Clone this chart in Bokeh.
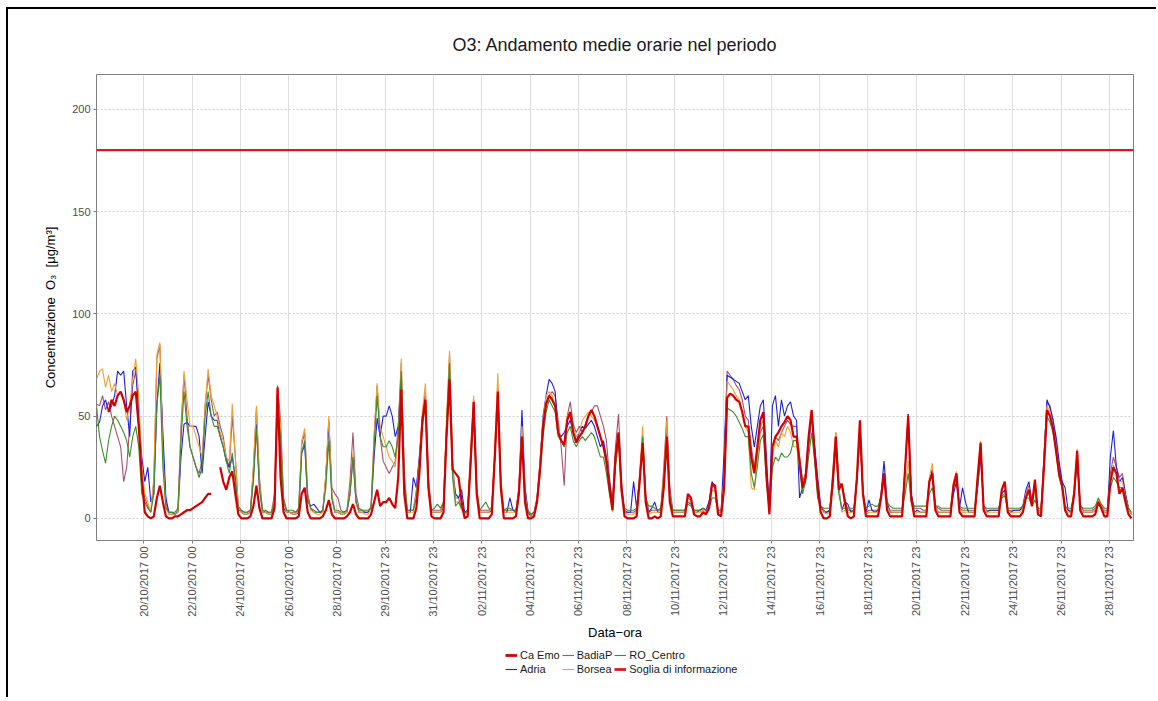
import math
from bokeh.plotting import figure
from bokeh.layouts import column
from bokeh.models import Legend, LegendItem, FixedTicker, Range1d, ColumnDataSource
from bokeh.embed import file_html
from bokeh.resources import INLINE

nan = float("nan")

TITLE = "O3: Andamento medie orarie nel periodo"
X_LABEL = "Data\u2212ora"
Y_LABEL = "Concentrazione\u00a0 O\u2083\u00a0 [\u03bcg/m\u00b3]"

# hours of each day (from 18/10/2017) at which the curves were read
SAMPLE_HOURS = [1, 4, 7, 10, 13, 16, 19, 22]
N_DAYS = 43
TICK_STEP_H = 48
TICK_LABELS = ["20/10/2017 00", "22/10/2017 00", "24/10/2017 00", "26/10/2017 00",
               "28/10/2017 00", "29/10/2017 23", "31/10/2017 23", "02/11/2017 23",
               "04/11/2017 23", "06/11/2017 23", "08/11/2017 23", "10/11/2017 23",
               "12/11/2017 23", "14/11/2017 23", "16/11/2017 23", "18/11/2017 23",
               "20/11/2017 23", "22/11/2017 23", "24/11/2017 23", "26/11/2017 23",
               "28/11/2017 23"]
Y_TICKS = [0, 50, 100, 150, 200]
SOGLIA = 180

CA_EMO = [
    nan, nan, nan, nan, 52, 58, 55, 60,
    62, 58, 52, 55, 60, 62, 45, 20,
    3, 1, 0, 1, 10, 16, 8, 1,
    0, 0, 1, 1, 2, 3, 4, 4,
    5, 6, 7, 8, 10, 12, 12, nan,
    nan, 25, 18, 14, 20, 23, 12, 2,
    0, 0, 0, 1, 6, 16, 5, 0,
    0, 0, 0, 5, 64, 20, 3, 0,
    0, 0, 0, 1, 12, 15, 3, 0,
    0, 0, 0, 1, 4, 9, 2, 0,
    0, 0, 0, 1, 3, 7, 2, 0,
    0, 0, 0, 2, 8, 14, 6, 8,
    8, 10, 7, 5, 20, 63, 12, 0,
    0, 0, 5, 22, 48, 58, 15, 1,
    0, 0, 0, 3, 40, 68, 24, 22,
    20, 8, 0, 1, 28, 57, 12, 0,
    0, 0, 0, 2, 30, 62, 15, 0,
    0, 0, 0, 1, 12, 40, 8, 0,
    0, 1, 8, 24, 45, 56, 60, 58,
    55, 42, 38, 36, 48, 52, 42, 37,
    40, 42, 45, 50, 53, 50, 45, 40,
    35, 28, 15, 4, 30, 42, 14, 1,
    0, 0, 0, 1, 18, 37, 8, 0,
    0, 1, 0, 1, 15, 40, 8, 1,
    1, 1, 1, 1, 12, 10, 2, 1,
    1, 3, 2, 5, 17, 16, 2, 1,
    15, 59, 61, 60, 58, 57, 52, 45,
    45, 30, 22, 35, 48, 52, 22, 2,
    35, 40, 42, 45, 47, 50, 48, 40,
    40, 28, 15, 20, 40, 53, 32, 15,
    3, 0, 0, 1, 18, 40, 14, 17,
    8, 1, 0, 1, 20, 48, 12, 1,
    1, 1, 1, 1, 10, 22, 4, 1,
    1, 1, 1, 1, 25, 50, 10, 1,
    1, 1, 1, 1, 18, 22, 4, 1,
    1, 1, 1, 1, 16, 22, 3, 1,
    1, 1, 1, 1, 20, 37, 4, 1,
    1, 1, 1, 1, 14, 18, 3, 1,
    1, 1, 1, 3, 10, 14, 6, 19,
    2, 1, 25, 53, 50, 44, 33, 22,
    16, 4, 1, 1, 12, 33, 4, 1,
    1, 1, 1, 2, 8, 5, 1, 1,
    18, 25, 22, 12, 15, 8, 2, 0,
]

ADRIA = [
    45, 47, 55, 58, 52, 55, 60, 72,
    70, 72, 55, 40, 72, 74, 50, 30,
    18, 25, 8, 12, 55, 76, 42, 10,
    3, 3, 2, 3, 30, 46, 47, 45,
    45, 45, 40, 22, 40, 57, 50, 48,
    48, 40, 35, 28, 25, 30, 20, 5,
    3, 2, 2, 3, 20, 46, 15, 3,
    3, 2, 2, 8, 60, 35, 5, 3,
    3, 2, 2, 3, 32, 36, 8, 6,
    7, 5, 3, 3, 20, 47, 10, 3,
    3, 2, 2, 3, 12, 30, 8, 3,
    3, 3, 3, 5, 30, 49, 40, 50,
    50, 55, 50, 40, 45, 70, 15, 3,
    3, 20, 15, 30, 48, 58, 15, 3,
    3, 3, 3, 5, 40, 72, 22, 12,
    10, 14, 3, 3, 30, 55, 12, 3,
    3, 3, 3, 4, 30, 60, 15, 3,
    3, 10, 4, 3, 15, 53, 15, 3,
    1, 2, 10, 28, 50, 60, 68, 66,
    62, 42, 40, 42, 45, 48, 42, 38,
    42, 45, 44, 46, 48, 45, 40, 35,
    38, 30, 18, 6, 28, 40, 15, 3,
    3, 3, 18, 5, 20, 40, 10, 3,
    5, 8, 3, 3, 20, 44, 12, 3,
    3, 3, 3, 3, 8, 7, 3, 3,
    4, 5, 4, 8, 18, 15, 3, 3,
    33, 70, 69, 68, 67, 66, 62, 58,
    60, 45, 35, 45, 55, 58, 30, 5,
    55, 60, 45, 58, 50, 55, 57, 50,
    48, 10, 15, 20, 35, 50, 35, 20,
    6, 3, 3, 4, 18, 38, 15, 4,
    8, 7, 3, 4, 18, 40, 12, 3,
    9, 4, 3, 4, 12, 28, 8, 3,
    3, 3, 3, 3, 25, 51, 12, 3,
    4, 3, 3, 3, 18, 24, 6, 3,
    3, 3, 3, 3, 12, 18, 5, 15,
    8, 3, 3, 3, 15, 30, 6, 3,
    4, 4, 4, 4, 12, 14, 4, 3,
    4, 4, 4, 6, 14, 18, 8, 15,
    3, 3, 30, 58, 54, 48, 40, 28,
    18, 15, 4, 3, 12, 28, 6, 3,
    3, 3, 3, 4, 8, 5, 3, 3,
    30, 43, 25, 18, 20, 12, 5, 2,
]

BADIAP = [
    56, 55, 60, 53, 57, 50, 45, 40,
    35, 18, 25, 45, 65, 72, 55, 20,
    10, 6, 3, 18, 78, 85, 35, 8,
    2, 2, 2, 4, 45, 70, 50, 35,
    30, 25, 22, 28, 55, 70, 58, 50,
    52, 45, 40, 30, 25, 50, 30, 6,
    4, 3, 3, 4, 25, 54, 20, 4,
    3, 3, 3, 12, 65, 48, 10, 4,
    3, 3, 3, 5, 36, 42, 12, 5,
    3, 3, 3, 4, 20, 48, 15, 12,
    10, 4, 3, 4, 18, 42, 12, 5,
    4, 3, 3, 6, 40, 65, 40, 28,
    25, 22, 25, 28, 45, 76, 22, 4,
    4, 4, 14, 30, 50, 62, 20, 4,
    4, 4, 4, 7, 46, 80, 28, 10,
    10, 5, 3, 4, 30, 58, 15, 4,
    4, 4, 4, 5, 32, 64, 18, 4,
    4, 4, 4, 4, 15, 43, 15, 4,
    2, 3, 10, 25, 45, 55, 60, 62,
    60, 48, 35, 16, 50, 57, 46, 42,
    45, 42, 46, 50, 52, 55, 55, 50,
    45, 38, 20, 8, 35, 51, 18, 4,
    3, 3, 3, 4, 20, 38, 12, 3,
    4, 4, 4, 4, 25, 50, 15, 4,
    4, 4, 4, 4, 10, 9, 4, 4,
    4, 5, 4, 8, 16, 15, 4, 4,
    25, 72, 70, 68, 65, 63, 58, 50,
    48, 35, 25, 32, 42, 45, 22, 5,
    35, 40, 38, 42, 45, 48, 46, 45,
    45, 30, 18, 22, 40, 53, 35, 12,
    6, 4, 3, 4, 22, 42, 18, 16,
    10, 4, 4, 4, 20, 45, 14, 3,
    4, 4, 4, 4, 10, 22, 6, 4,
    4, 4, 4, 4, 25, 51, 12, 5,
    5, 5, 4, 4, 18, 22, 6, 5,
    4, 4, 4, 4, 16, 22, 5, 4,
    4, 4, 4, 4, 18, 36, 6, 4,
    4, 4, 4, 4, 11, 12, 4, 4,
    4, 4, 4, 6, 12, 16, 8, 17,
    4, 4, 30, 57, 55, 48, 38, 25,
    18, 6, 4, 4, 14, 32, 7, 4,
    4, 4, 4, 5, 8, 6, 4, 4,
    22, 30, 25, 20, 22, 12, 5, 2,
]

BORSEA = [
    68, 72, 73, 64, 70, 62, 66, 60,
    62, 58, 48, 55, 68, 78, 60, 25,
    12, 8, 3, 20, 80, 86, 30, 5,
    2, 2, 2, 3, 40, 72, 58, 45,
    45, 40, 35, 30, 55, 73, 60, 55,
    50, 42, 38, 30, 28, 56, 30, 5,
    3, 2, 2, 3, 25, 55, 18, 3,
    3, 2, 2, 10, 62, 45, 8, 3,
    3, 2, 2, 4, 38, 44, 10, 4,
    3, 2, 2, 3, 22, 50, 12, 3,
    3, 2, 2, 3, 14, 32, 8, 3,
    3, 2, 2, 5, 40, 66, 45, 40,
    35, 30, 28, 25, 40, 78, 20, 3,
    3, 3, 12, 28, 52, 66, 18, 3,
    3, 3, 3, 6, 48, 82, 25, 8,
    8, 4, 2, 3, 32, 60, 15, 3,
    3, 3, 3, 5, 35, 71, 20, 3,
    3, 3, 3, 3, 15, 45, 12, 2,
    1, 2, 10, 28, 48, 60, 62, 60,
    55, 45, 38, 35, 50, 52, 44, 40,
    42, 48, 50, 52, 50, 48, 45, 40,
    35, 25, 12, 3, 30, 42, 12, 3,
    2, 2, 2, 3, 22, 45, 10, 2,
    3, 3, 3, 3, 22, 48, 12, 3,
    3, 3, 3, 3, 8, 8, 3, 3,
    3, 4, 3, 6, 14, 13, 3, 3,
    20, 67, 65, 63, 60, 58, 52, 45,
    42, 15, 14, 30, 45, 48, 20, 3,
    30, 38, 35, 42, 40, 45, 42, 35,
    35, 25, 15, 20, 38, 52, 30, 10,
    5, 3, 2, 3, 20, 42, 15, 3,
    4, 3, 3, 3, 20, 47, 14, 2,
    3, 3, 3, 3, 10, 20, 6, 3,
    3, 3, 3, 3, 15, 28, 8, 3,
    3, 3, 3, 3, 20, 27, 6, 3,
    3, 3, 3, 3, 18, 23, 5, 3,
    3, 3, 3, 3, 20, 38, 6, 3,
    3, 3, 3, 3, 10, 12, 4, 3,
    3, 3, 3, 5, 12, 15, 7, 14,
    3, 3, 28, 55, 52, 45, 35, 22,
    15, 5, 3, 3, 14, 34, 6, 3,
    3, 3, 3, 4, 9, 6, 3, 3,
    20, 26, 22, 18, 18, 10, 5, 2,
]

RO_CENTRO = [
    55, 40, 33, 27, 38, 45, 50, 48,
    45, 42, 38, 30, 40, 45, 35, 12,
    8, 5, 3, 12, 55, 70, 25, 5,
    3, 3, 3, 5, 38, 62, 45, 35,
    30, 25, 20, 25, 50, 62, 50, 45,
    45, 40, 35, 28, 22, 32, 18, 4,
    4, 3, 3, 4, 18, 44, 15, 4,
    4, 3, 3, 8, 54, 40, 8, 4,
    4, 4, 3, 4, 32, 38, 10, 5,
    4, 3, 3, 4, 15, 38, 10, 4,
    4, 3, 3, 4, 12, 30, 8, 4,
    4, 4, 4, 5, 35, 60, 40, 35,
    35, 38, 35, 30, 40, 72, 18, 4,
    4, 4, 10, 25, 45, 55, 15, 4,
    5, 7, 5, 8, 45, 76, 20, 6,
    8, 5, 3, 4, 25, 50, 12, 4,
    6, 8, 5, 5, 30, 58, 15, 4,
    5, 5, 4, 4, 12, 38, 10, 3,
    2, 3, 8, 22, 40, 52, 58, 55,
    52, 40, 38, 35, 42, 45, 38, 35,
    38, 40, 38, 40, 42, 40, 35, 30,
    30, 22, 12, 5, 25, 38, 12, 5,
    4, 4, 4, 5, 18, 40, 10, 6,
    6, 5, 4, 5, 18, 40, 10, 4,
    4, 4, 4, 4, 7, 6, 4, 4,
    4, 5, 4, 5, 10, 10, 4, 4,
    15, 54, 53, 52, 50, 47, 44, 40,
    40, 22, 15, 25, 38, 41, 18, 4,
    25, 30, 28, 32, 30, 30, 32, 38,
    38, 25, 12, 18, 30, 42, 28, 10,
    6, 5, 5, 5, 15, 35, 12, 5,
    5, 5, 5, 5, 18, 42, 12, 5,
    6, 7, 6, 6, 10, 20, 8, 6,
    5, 5, 5, 5, 12, 22, 8, 6,
    6, 6, 6, 6, 12, 15, 6, 6,
    5, 5, 5, 5, 15, 20, 6, 5,
    5, 5, 5, 5, 15, 33, 6, 5,
    5, 5, 5, 5, 10, 11, 5, 5,
    5, 5, 5, 6, 10, 10, 6, 9,
    5, 5, 25, 50, 47, 42, 32, 20,
    15, 6, 5, 5, 12, 30, 6, 5,
    5, 5, 5, 6, 10, 7, 5, 5,
    15, 20, 18, 15, 15, 10, 5, 3,
]

hours = [24 * d + s for d in range(N_DAYS) for s in SAMPLE_HOURS]
for arr in (CA_EMO, ADRIA, BADIAP, BORSEA, RO_CENTRO):
    assert len(arr) == len(hours), len(arr)

src = ColumnDataSource(dict(h=hours, ca=CA_EMO, ad=ADRIA, ba=BADIAP, bo=BORSEA, ro=RO_CENTRO))

FONT = "Liberation Sans"
W = 1148
p = figure(width=W, height=640, output_backend="svg", toolbar_location=None,
           x_range=Range1d(1, 1032), y_range=Range1d(-10.8, 217),
           min_border_left=88, min_border_right=23, min_border_top=65, min_border_bottom=109)

p.title.text = TITLE
p.title.align = "center"
p.title.text_font = FONT
p.title.text_font_size = "18px"
p.title.text_font_style = "normal"
p.title.text_color = "#1A1A1A"
p.title.standoff = 40

p.outline_line_color = "#7F7F7F"
p.outline_line_width = 1
p.background_fill_color = "white"
p.border_fill_color = "white"

ticks = [TICK_STEP_H * (i + 1) for i in range(len(TICK_LABELS))]
p.xaxis.ticker = FixedTicker(ticks=ticks)
p.xaxis.major_label_overrides = {t: lab for t, lab in zip(ticks, TICK_LABELS)}
p.xaxis.major_label_orientation = math.pi / 2
p.yaxis.ticker = FixedTicker(ticks=Y_TICKS)

for ax in (p.xaxis, p.yaxis):
    ax.axis_line_color = None
    ax.major_tick_line_color = "#7F7F7F"
    ax.major_tick_out = 3
    ax.major_tick_in = 0
    ax.minor_tick_line_color = None
    ax.major_label_text_font = FONT
    ax.major_label_text_font_size = "11px"
    ax.major_label_text_color = "#4D4D4D"
    ax.axis_label_text_font = FONT
    ax.axis_label_text_font_size = "13px"
    ax.axis_label_text_font_style = "normal"
    ax.axis_label_text_color = "black"
    ax.major_label_standoff = 3

p.xaxis.axis_label = X_LABEL
p.yaxis.axis_label = Y_LABEL
p.xaxis.axis_label_standoff = 5
p.yaxis.axis_label_standoff = 11

p.xgrid.ticker = FixedTicker(ticks=ticks)
p.xgrid.grid_line_color = "#DEDEDE"
p.xgrid.grid_line_width = 1
p.ygrid.ticker = FixedTicker(ticks=Y_TICKS)
p.ygrid.grid_line_color = "#CFCFCF"
p.ygrid.grid_line_dash = "2 2"
p.ygrid.grid_line_width = 1

C_CA = "#D40000"
C_AD = "#1F1FE0"
C_BA = "#A8506A"
C_BO = "#F2A032"
C_RO = "#3E8C2E"
C_SO = "#E01818"
W_THIN = 1.1
W_CA = 2.2
W_SO = 2.2

p.line("h", "ba", source=src, line_color=C_BA, line_width=W_THIN)
p.line("h", "ad", source=src, line_color=C_AD, line_width=W_THIN)
p.line("h", "bo", source=src, line_color=C_BO, line_width=W_THIN)
p.line("h", "ro", source=src, line_color=C_RO, line_width=W_THIN)
p.line("h", "ca", source=src, line_color=C_CA, line_width=W_CA)
p.line([hours[0] - 1, hours[-1] + 2], [SOGLIA, SOGLIA], line_color=C_SO, line_width=W_SO)

# legend panel below the plot (its frame is aligned with the plot frame)
lf = figure(width=W, height=48, output_backend="svg", toolbar_location=None,
            x_range=Range1d(0, 1), y_range=Range1d(0, 1), x_axis_type=None, y_axis_type=None,
            min_border=0)
lf.outline_line_color = None
lf.grid.visible = False
lf.border_fill_color = "white"
lf.background_fill_color = "white"

def key(color, width):
    # legend key: a renderer kept outside the visible range
    return lf.line([-2, -1], [-2, -2], line_color=color, line_width=width)

legend = Legend(items=[
    LegendItem(label="Ca Emo", renderers=[key(C_CA, W_CA + 0.6)]),
    LegendItem(label="Adria", renderers=[key(C_AD, W_THIN)]),
    LegendItem(label="BadiaP", renderers=[key(C_BA, W_THIN)]),
    LegendItem(label="Borsea", renderers=[key(C_BO, W_THIN)]),
    LegendItem(label="RO_Centro", renderers=[key(C_RO, W_THIN)]),
    LegendItem(label="Soglia di informazione", renderers=[key(C_SO, W_SO + 0.6)]),
], orientation="vertical", nrows=2, location=(409, 22))
legend.label_text_font = FONT
legend.label_text_font_size = "11px"
legend.label_text_color = "#1A1A1A"
legend.glyph_width = 12
legend.glyph_height = 12
legend.label_height = 12
legend.label_standoff = 3
legend.spacing = 2
legend.padding = 0
legend.margin = 0
legend.border_line_color = None
legend.background_fill_alpha = 0
lf.add_layout(legend)

layout = column(p, lf, spacing=0)
layout.styles = {"margin-left": "6px", "margin-top": "7px",
                 "border-top": "2px solid black", "border-left": "2px solid black"}

open("out.html", "w").write(file_html(layout, INLINE))
